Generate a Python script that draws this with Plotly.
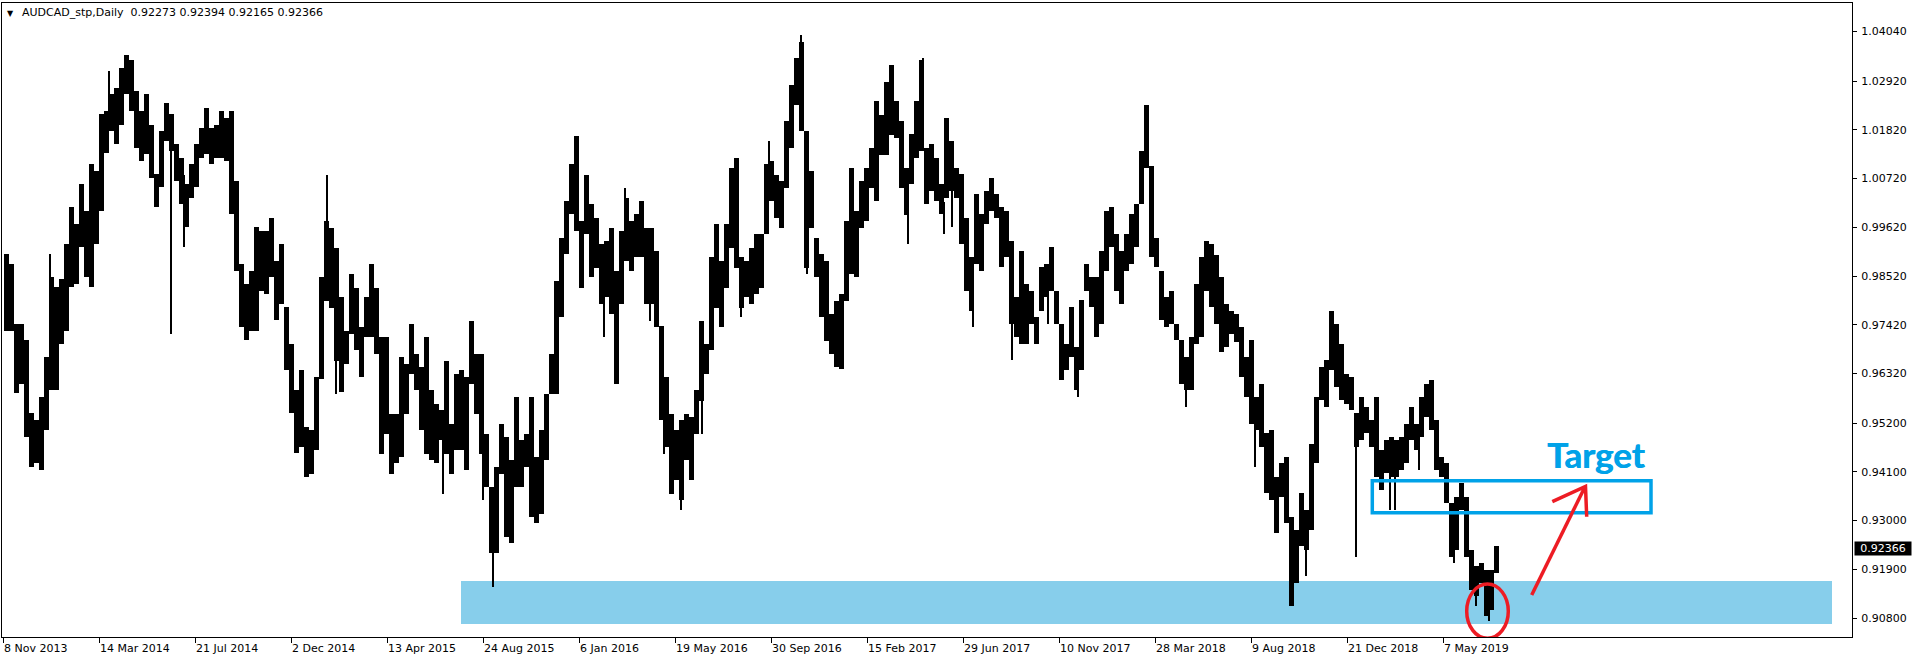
import plotly.graph_objects as go

# ---------------- data ----------------
# weekly high / low envelope of the daily AUDCAD bars (5 bars per week)
week_high = [
    0.9902, 0.9879, 0.9744, 0.9744, 0.9707, 0.9542, 0.9527, 0.9579, 0.9669, 0.9849,
    0.9827, 0.9845, 0.9924, 1.0007, 0.9969, 1.0059, 0.9999, 1.0104, 1.0089, 1.0217,
    1.0224, 1.0262, 1.0277, 1.0322, 1.0352, 1.0340, 1.0269, 1.0224, 1.0262, 1.0194,
    1.0082, 1.0179, 1.0243, 1.0217, 1.0149, 1.0119, 1.0059, 1.0104, 1.0149, 1.0187,
    1.0232, 1.0187, 1.0194, 1.0224, 1.0209, 1.0224, 1.0067, 0.9879, 0.9834, 0.9864,
    0.9962, 0.9954, 0.9954, 0.9984, 0.9887, 0.9924, 0.9782, 0.9699, 0.9594, 0.9639,
    0.9512, 0.9504, 0.9624, 0.9849, 0.9976, 0.9961, 0.9916, 0.9804, 0.9729, 0.9856,
    0.9826, 0.9736, 0.9804, 0.9879, 0.9826, 0.9714, 0.9714, 0.9541, 0.9541, 0.9669,
    0.9654, 0.9744, 0.9676, 0.9646, 0.9714, 0.9594, 0.9564, 0.9549, 0.9661, 0.9519,
    0.9631, 0.9639, 0.9624, 0.9751, 0.9676, 0.9676, 0.9496, 0.9376, 0.9421, 0.9519,
    0.9489, 0.9436, 0.9579, 0.9481, 0.9496, 0.9579, 0.9444, 0.9504, 0.9586, 0.9676,
    0.9841, 0.9939, 1.0021, 1.0104, 1.0167, 0.9976, 1.0081, 1.0014, 0.9984, 0.9924,
    0.9931, 0.9961, 0.9864, 0.9954, 1.0029, 0.9976, 0.9991, 1.0021, 0.9961, 0.9961,
    0.9909, 0.9740, 0.9624, 0.9541, 0.9504, 0.9526, 0.9541, 0.9534, 0.9594, 0.9751,
    0.9699, 0.9894, 0.9969, 0.9886, 0.9969, 1.0096, 1.0119, 0.9894, 0.9886, 0.9916,
    0.9946, 0.9946, 1.0104, 1.0111, 1.0081, 1.0066, 1.0201, 1.0284, 1.0344, 1.0381,
    1.0180, 1.0089, 0.9939, 0.9901, 0.9886, 0.9766, 0.9796, 0.9811, 0.9976, 1.0096,
    0.9999, 1.0066, 1.0096, 1.0141, 1.0246, 1.0216, 1.0291, 1.0329, 1.0246, 1.0201,
    1.0096, 1.0172, 1.0247, 1.0340, 1.0142, 1.0149, 1.0119, 1.0059, 1.0209, 1.0157,
    1.0097, 1.0082, 0.9984, 0.9894, 1.0037, 0.9992, 1.0044, 1.0074, 1.0037, 1.0007,
    0.9999, 0.9932, 0.9804, 0.9909, 0.9834, 0.9819, 0.9759, 0.9872, 0.9879, 0.9917,
    0.9819, 0.9744, 0.9699, 0.9782, 0.9692, 0.9797, 0.9879, 0.9849, 0.9849, 0.9909,
    0.9999, 1.0007, 0.9947, 0.9909, 0.9947, 0.9992, 1.0014, 1.0134, 1.0239, 1.0100,
    0.9939, 0.9864, 0.9804, 0.9819, 0.9744, 0.9707, 0.9669, 0.9714, 0.9834, 0.9894,
    0.9932, 0.9925, 0.9900, 0.9850, 0.9789, 0.9774, 0.9767, 0.9737, 0.9669, 0.9707,
    0.9579, 0.9609, 0.9497, 0.9504, 0.9399, 0.9429, 0.9444, 0.9309, 0.9279, 0.9362,
    0.9324, 0.9474, 0.9579, 0.9647, 0.9662, 0.9774, 0.9744, 0.9699, 0.9632, 0.9624,
    0.9542, 0.9579, 0.9557, 0.9527, 0.9579, 0.9459, 0.9482, 0.9489, 0.9482, 0.9489,
    0.9519, 0.9557, 0.9519, 0.9579, 0.9609, 0.9617, 0.9527, 0.9444, 0.9429, 0.9340,
    0.9354, 0.9384, 0.9354, 0.9234, 0.9197, 0.9204, 0.9189, 0.9189, 0.9242,
]
week_low = [
    0.9729, 0.9729, 0.9587, 0.9609, 0.9489, 0.9422, 0.9429, 0.9414, 0.9504, 0.9594,
    0.9594, 0.9699, 0.9729, 0.9827, 0.9834, 0.9917, 0.9849, 0.9827, 0.9924, 0.9999,
    1.0130, 1.0179, 1.0149, 1.0194, 1.0262, 1.0224, 1.0142, 1.0112, 1.0127, 1.0074,
    1.0007, 1.0052, 1.0157, 1.0134, 1.0067, 1.0014, 0.9962, 1.0029, 1.0052, 1.0119,
    1.0127, 1.0104, 1.0119, 1.0119, 1.0112, 0.9992, 0.9864, 0.9737, 0.9707, 0.9729,
    0.9729, 0.9819, 0.9812, 0.9849, 0.9752, 0.9789, 0.9639, 0.9542, 0.9452, 0.9467,
    0.9399, 0.9406, 0.9459, 0.9620, 0.9796, 0.9781, 0.9661, 0.9590, 0.9654, 0.9721,
    0.9684, 0.9624, 0.9714, 0.9714, 0.9676, 0.9451, 0.9496, 0.9406, 0.9429, 0.9444,
    0.9541, 0.9631, 0.9594, 0.9504, 0.9451, 0.9436, 0.9429, 0.9481, 0.9451, 0.9406,
    0.9459, 0.9459, 0.9414, 0.9609, 0.9541, 0.9451, 0.9376, 0.9226, 0.9226, 0.9406,
    0.9264, 0.9249, 0.9376, 0.9376, 0.9421, 0.9309, 0.9294, 0.9316, 0.9436, 0.9586,
    0.9586, 0.9759, 0.9901, 0.9991, 0.9954, 0.9826, 0.9946, 0.9849, 0.9871, 0.9789,
    0.9804, 0.9766, 0.9609, 0.9789, 0.9886, 0.9864, 0.9894, 0.9894, 0.9789, 0.9789,
    0.9736, 0.9526, 0.9466, 0.9361, 0.9391, 0.9346, 0.9436, 0.9391, 0.9496, 0.9571,
    0.9631, 0.9684, 0.9781, 0.9736, 0.9826, 0.9916, 0.9871, 0.9781, 0.9804, 0.9789,
    0.9811, 0.9826, 0.9946, 1.0021, 0.9984, 0.9961, 1.0051, 1.0141, 1.0239, 1.0179,
    0.9871, 0.9961, 0.9849, 0.9759, 0.9706, 0.9676, 0.9646, 0.9642, 0.9796, 0.9856,
    0.9849, 0.9961, 0.9976, 1.0051, 1.0021, 1.0126, 1.0126, 1.0171, 1.0164, 1.0051,
    0.9990, 1.0059, 1.0119, 1.0134, 1.0014, 1.0044, 1.0022, 0.9992, 1.0029, 1.0044,
    1.0029, 0.9924, 0.9819, 0.9774, 0.9879, 0.9864, 0.9969, 0.9999, 0.9984, 0.9872,
    0.9894, 0.9744, 0.9714, 0.9699, 0.9699, 0.9744, 0.9699, 0.9774, 0.9804, 0.9819,
    0.9744, 0.9617, 0.9639, 0.9669, 0.9594, 0.9639, 0.9819, 0.9782, 0.9714, 0.9744,
    0.9864, 0.9917, 0.9819, 0.9789, 0.9864, 0.9879, 0.9917, 1.0014, 1.0097, 0.9894,
    0.9872, 0.9752, 0.9737, 0.9744, 0.9707, 0.9609, 0.9594, 0.9594, 0.9699, 0.9714,
    0.9819, 0.9782, 0.9744, 0.9680, 0.9692, 0.9722, 0.9703, 0.9624, 0.9579, 0.9519,
    0.9504, 0.9467, 0.9362, 0.9347, 0.9272, 0.9354, 0.9294, 0.9107, 0.9159, 0.9242,
    0.9234, 0.9279, 0.9429, 0.9572, 0.9557, 0.9639, 0.9602, 0.9572, 0.9564, 0.9549,
    0.9467, 0.9482, 0.9497, 0.9467, 0.9399, 0.9369, 0.9407, 0.9399, 0.9399, 0.9414,
    0.9429, 0.9482, 0.9459, 0.9489, 0.9534, 0.9504, 0.9414, 0.9399, 0.9339, 0.9219,
    0.9234, 0.9324, 0.9219, 0.9144, 0.9129, 0.9159, 0.9084, 0.9099, 0.9182,
]

# single daily bars with long wicks (bar number, high, low)
spike_bar = [46, 105, 167, 180, 323, 332, 439, 479, 489, 600, 621, 646, 660, 677,
             698, 737, 765, 797, 803, 904, 919, 940, 948, 969, 1008, 1044, 1074,
             1182, 1251, 1302, 1352, 1386, 1391, 1415, 1450, 1472, 1485]
spike_high = [0.9902, 1.0314, 1.0200, 1.0080, 1.0081, 0.9850, 0.9500, 0.9500, 0.9280,
              0.9850, 1.0051, 0.9900, 0.9600, 0.9420, 0.9700, 0.9850, 1.0156, 1.0396,
              0.9950, 1.0050, 1.0345, 1.0020, 1.0060, 0.9800, 0.9900, 0.9850, 0.9650,
              0.9640, 0.9560, 0.9300, 0.9500, 0.9460, 0.9450, 0.9500, 0.9300, 0.9190,
              0.9150]
spike_low = [0.9750, 1.0200, 0.9722, 0.9917, 0.9900, 0.9586, 0.9361, 0.9346, 0.9151,
             0.9714, 0.9950, 0.9751, 0.9451, 0.9324, 0.9496, 0.9759, 1.0050, 1.0300,
             0.9856, 0.9924, 1.0250, 0.9947, 0.9962, 0.9737, 0.9662, 0.9744, 0.9579,
             0.9557, 0.9422, 0.9174, 0.9219, 0.9324, 0.9324, 0.9414, 0.9204, 0.9107,
             0.9073]

x_tick_labels = ["8 Nov 2013", "14 Mar 2014", "21 Jul 2014", "2 Dec 2014",
                 "13 Apr 2015", "24 Aug 2015", "6 Jan 2016", "19 May 2016",
                 "30 Sep 2016", "15 Feb 2017", "29 Jun 2017", "10 Nov 2017",
                 "28 Mar 2018", "9 Aug 2018", "21 Dec 2018", "7 May 2019"]
y_tick_values = [1.04040, 1.02920, 1.01820, 1.00720, 0.99620, 0.98520, 0.97420,
                 0.96320, 0.95200, 0.94100, 0.93000, 0.91900, 0.90800]
symbol = "AUDCAD_stp,Daily"
last_ohlc = [0.92273, 0.92394, 0.92165, 0.92366]

# ---------------- layout constants ----------------
BARS_PER_WEEK = 5
BARS_PER_LABEL = 96
FONT = "DejaVu Sans"
TARGET_BLUE = "#00A2E8"
MARK_RED = "#ED1C24"

week_x = [BARS_PER_WEEK * i + BARS_PER_WEEK / 2 for i in range(len(week_high))]
week_len = [h - l for h, l in zip(week_high, week_low)]
spike_x = [b + 0.5 for b in spike_bar]
spike_len = [h - l for h, l in zip(spike_high, spike_low)]

fig = go.Figure()
fig.add_trace(go.Bar(x=week_x, y=week_len, base=week_low, width=BARS_PER_WEEK,
                     marker=dict(color="black", line=dict(width=0)),
                     hoverinfo="skip", name="AUDCAD"))
fig.add_trace(go.Bar(x=spike_x, y=spike_len, base=spike_low, width=1.3,
                     marker=dict(color="black", line=dict(width=0)),
                     hoverinfo="skip", name="wicks"))

tick_bars = [BARS_PER_LABEL * k for k in range(len(x_tick_labels))]

annotations = []
for b, lab in zip(tick_bars, x_tick_labels):
    annotations.append(dict(x=b, xref="x", y=0, yref="paper", text=lab,
                            showarrow=False, xanchor="left", yanchor="top",
                            xshift=-2, yshift=-3,
                            font=dict(family=FONT, size=11, color="black")))
# header
annotations.append(dict(x=0, xref="paper", y=1, yref="paper", text="\u25BC",
                        showarrow=False, xanchor="left", yanchor="top",
                        xshift=3, yshift=-4,
                        font=dict(family=FONT, size=8, color="black")))
header = symbol + "\u00a0\u00a0" + " ".join(f"{v:.5f}" for v in last_ohlc)
annotations.append(dict(x=0, xref="paper", y=1, yref="paper", text=header,
                        showarrow=False, xanchor="left", yanchor="top",
                        xshift=18, yshift=-1,
                        font=dict(family=FONT, size=11, color="black")))
# last price box on the price scale
annotations.append(dict(x=1, xref="paper", y=last_ohlc[3], yref="y",
                        text=f"{last_ohlc[3]:.5f}", showarrow=False,
                        xanchor="left", yanchor="middle", xshift=2,
                        bgcolor="black", width=54, height=11, borderpad=1,
                        font=dict(family=FONT, size=11, color="white")))
# Target label
annotations.append(dict(x=1592, xref="x", y=0.94503, yref="y", text="<b>Target</b>",
                        showarrow=False, xanchor="center", yanchor="middle",
                        font=dict(family="Lato", size=35, color=TARGET_BLUE,
                                  weight=900,
                                  shadow="0.7px 0px 0px " + TARGET_BLUE)))

shapes = [
    # support zone
    dict(type="rect", xref="x", yref="y", x0=457.4, x1=1828.4, y0=0.90666, y1=0.91637,
         fillcolor="#87CEEB", line=dict(width=0), layer="below"),
    # target box
    dict(type="rect", xref="x", yref="y", x0=1368.7, x1=1647.4, y0=0.93178, y1=0.93901,
         line=dict(color=TARGET_BLUE, width=3.5), fillcolor="rgba(0,0,0,0)", layer="above"),
    # circled low
    dict(type="circle", xref="x", yref="y", x0=1463.1, x1=1504.7, y0=0.90343, y1=0.91569,
         line=dict(color=MARK_RED, width=3.5), layer="above"),
    # arrow shaft and head
    dict(type="path", xref="x", yref="y", path="M 1528.1,0.91321 L 1581.4,0.93765",
         line=dict(color=MARK_RED, width=3.5), layer="above"),
    dict(type="path", xref="x", yref="y", path="M 1548.7,0.93427 L 1581.9,0.93774 L 1583.1,0.93088",
         line=dict(color=MARK_RED, width=3.5), layer="above"),
]

fig.update_layout(
    template="none",
    width=1916, height=661,
    margin=dict(l=2, r=64, t=3, b=24, pad=0),
    paper_bgcolor="white", plot_bgcolor="white",
    showlegend=False, barmode="overlay", bargap=0,
    font=dict(family=FONT, size=11, color="black"),
    annotations=annotations, shapes=shapes,
)
fig.update_xaxes(range=[-1.6, 1848.4], showline=True, linecolor="black", linewidth=1,
                 mirror=True, showgrid=False, zeroline=False, automargin=False,
                 tickmode="array", tickvals=tick_bars, showticklabels=False,
                 ticks="outside", ticklen=5, tickcolor="black", tickwidth=1,
                 fixedrange=True)
fig.update_yaxes(range=[0.90373, 1.04683], side="right", showline=True,
                 linecolor="black", linewidth=1, mirror=True, showgrid=False,
                 zeroline=False, automargin=False, tickmode="array",
                 tickvals=y_tick_values, ticktext=[f"{v:.5f}" for v in y_tick_values],
                 ticks="outside", ticklen=4, tickcolor="black", tickwidth=1,
                 ticklabelstandoff=2,
                 tickfont=dict(family=FONT, size=11, color="black"), fixedrange=True)

fig.write_html(
    "out.html",
    config={"displayModeBar": False, "staticPlot": True},
    post_script="document.body.style.margin='0px';document.body.style.overflow='hidden';",
)
